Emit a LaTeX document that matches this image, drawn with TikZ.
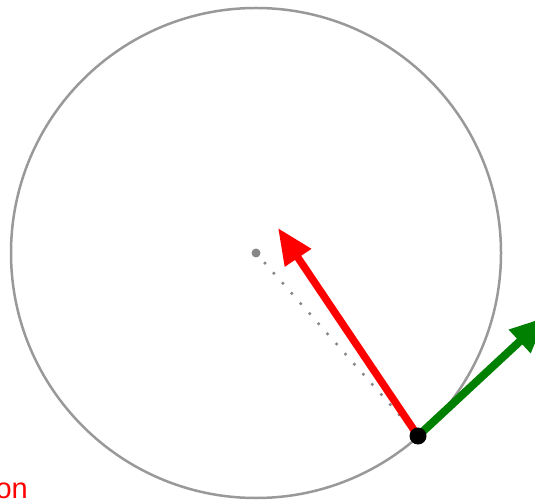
\documentclass[tikz,border=0pt]{standalone}
\usepackage{fontspec}
\setmainfont{Liberation Sans}
\usetikzlibrary{arrows.meta}
\definecolor{circgray}{HTML}{999999}
\definecolor{dotgray}{HTML}{888888}
\definecolor{webgreen}{HTML}{008000}
\tikzset{
  vecarrow/.style={line width=7.5pt, -{Triangle[length=36pt,width=30pt]}},
}
\begin{document}
\begin{tikzpicture}[x=1pt,y=-1pt]
\useasboundingbox (0,0) rectangle (535,502);
\clip (0,0) rectangle (535,502);
\coordinate (c) at (256,253);
\coordinate (p) at (418,436);
\coordinate (rt) at (278,228);
\coordinate (gt) at (546,317);
\draw[circgray, line width=2.5pt] (c) circle (245);
\draw[dotgray, line width=3.5pt, line cap=round, dash pattern=on 0pt off 13.5pt] (c) -- (p);
\fill[dotgray] (c) circle (4.5);
\draw[vecarrow, red] (p) -- (rt);
\draw[vecarrow, webgreen, line width=8pt] (p) -- (gt);
\fill[black] (p) circle (8.5);
\node[anchor=base east, inner sep=0pt, text=red, font=\fontsize{29}{29}\selectfont] (lbl) at (28,498) {on};
\end{tikzpicture}
\end{document}
